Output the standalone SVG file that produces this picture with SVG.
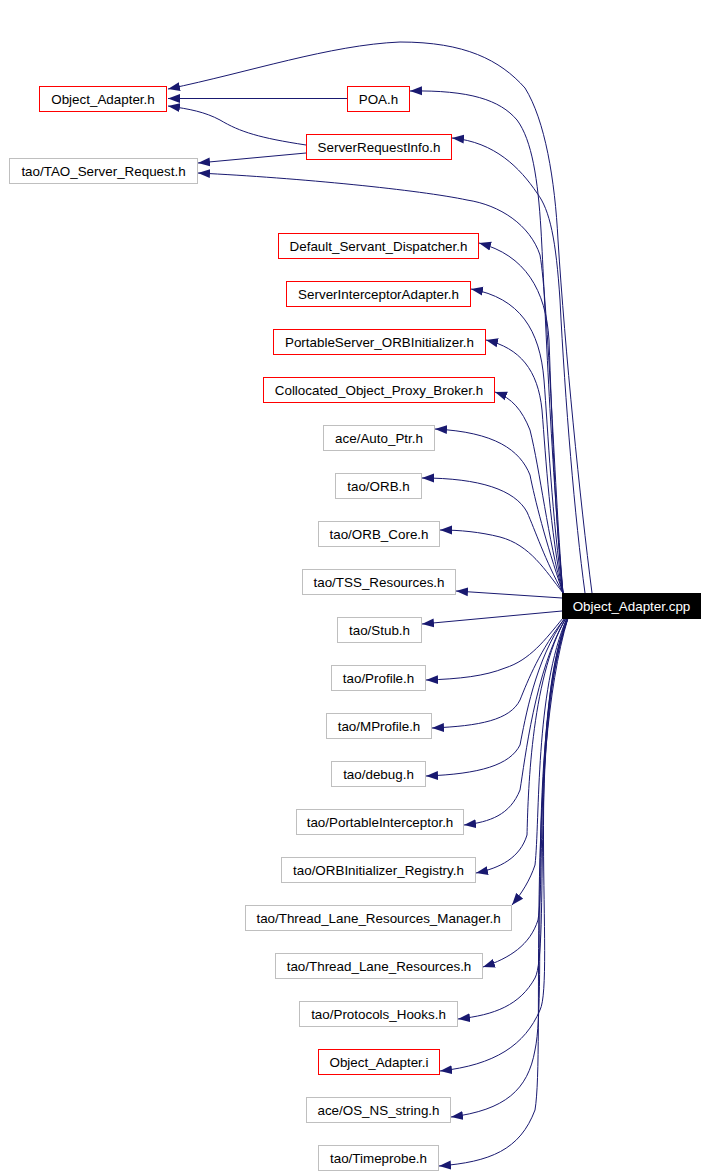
<svg xmlns="http://www.w3.org/2000/svg" width="708" height="1176" viewBox="0 0 708 1176">
<style>
.n rect{fill:#fff;stroke-width:1}
.r rect{stroke:#ff0000}
.g rect{stroke:#bfbfbf}
text{font-family:"Liberation Sans",Arial,Helvetica,sans-serif;font-size:13.4px;text-anchor:middle;fill:#000}
.e path{fill:none;stroke:#191970;stroke-width:1;marker-end:url(#a)}
</style>
<defs>
<marker id="a" markerUnits="userSpaceOnUse" markerWidth="13" markerHeight="10" refX="12" refY="5" orient="auto">
<path d="M0,0.5 L12,5 L0,9.5 Z" fill="#191970"/>
</marker>
</defs>
<rect width="708" height="1176" fill="#fff"/>
<g id="edges" class="e">
<path d="M347,98.5 L168,98.5"/>
<path d="M306,145 C260,138 240,132 220,120 C205,112 190,109 168,106"/>
<path d="M306,153 L198,163"/>
<path d="M592,593 C580,500 565,350 558,240 C555,180 545,120 525,88 C500,60 465,42 400,42 C330,45 250,72 168,89"/>
<path d="M563,593 C550,450 545,300 541,230 C538,180 532,140 517,120 C500,100 470,90 410,91"/>
<path d="M585,593 C575,520 565,400 560,300 C556,240 550,210 537,193 C520,168 495,142 452,138"/>
<path d="M563,593 C555,500 548,300 540,255 C530,225 500,205 467,200 C420,190 300,178 198,173"/>
<path d="M563,593 C555,520 552,420 549,340 C546,290 525,255 479,243"/>
<path d="M563,593 C552,520 548,430 544,380 C540,330 520,298 471,289"/>
<path d="M563,593 C550,530 546,460 542,410 C538,370 520,348 486,340"/>
<path d="M563,593 C548,540 540,470 530,430 C522,410 512,398 495,392"/>
<path d="M563,593 C545,540 535,500 530,475 C520,450 495,432 435,429"/>
<path d="M563,593 C545,560 535,530 527,512 C515,490 480,478 422,478"/>
<path d="M563,593 C545,570 530,545 500,537 C480,532 460,530 440,530"/>
<path d="M562,598 L456,591"/>
<path d="M562,611 L422,624"/>
<path d="M563,618 C545,640 530,660 505,668 C485,676 460,679 426,680"/>
<path d="M565,618 C540,650 528,680 520,700 C510,720 480,726 432,728"/>
<path d="M565,618 C535,660 525,720 520,745 C510,765 480,774 426,776"/>
<path d="M566,618 C535,670 525,760 520,790 C510,815 490,822 464,825"/>
<path d="M566,618 C530,680 528,800 527,835 C520,858 500,868 476,873"/>
<path d="M567,618 C535,690 540,820 535,865 C530,880 522,893 512,905"/>
<path d="M567,618 C535,700 545,880 538,920 C530,945 510,958 483,967"/>
<path d="M568,618 C530,720 550,950 535,978 C520,1005 495,1015 458,1019"/>
<path d="M568,618 C525,720 555,980 540,1010 C525,1045 495,1065 440,1071"/>
<path d="M568,618 C525,740 548,990 535,1050 C528,1090 505,1110 451,1117"/>
<path d="M568,618 C525,760 545,1050 535,1110 C520,1150 490,1162 439,1166"/>
</g>
<g id="n_oah" class="n r"><rect x="39.5" y="86.5" width="127" height="25"/><text x="103" y="104">Object_Adapter.h</text></g>
<g id="n_poa" class="n r"><rect x="347.5" y="86.5" width="62" height="25"/><text x="378.5" y="104">POA.h</text></g>
<g id="n_sri" class="n r"><rect x="306.5" y="134.5" width="145" height="25"/><text x="379" y="152">ServerRequestInfo.h</text></g>
<g id="n_tsr" class="n g"><rect x="9.5" y="158.5" width="188" height="25"/><text x="103.5" y="176">tao/TAO_Server_Request.h</text></g>
<g id="n_dsd" class="n r"><rect x="278.5" y="233.5" width="200" height="25"/><text x="378.5" y="251">Default_Servant_Dispatcher.h</text></g>
<g id="n_sia" class="n r"><rect x="286.5" y="281.5" width="184" height="25"/><text x="378.5" y="299">ServerInterceptorAdapter.h</text></g>
<g id="n_psoi" class="n r"><rect x="273.5" y="329.5" width="212" height="25"/><text x="379.5" y="347">PortableServer_ORBInitializer.h</text></g>
<g id="n_copb" class="n r"><rect x="263.5" y="377.5" width="231" height="25"/><text x="379" y="395">Collocated_Object_Proxy_Broker.h</text></g>
<g id="n_ap" class="n g"><rect x="323.5" y="425.5" width="111" height="25"/><text x="379" y="443">ace/Auto_Ptr.h</text></g>
<g id="n_orb" class="n g"><rect x="335.5" y="473.5" width="86" height="25"/><text x="378.5" y="491">tao/ORB.h</text></g>
<g id="n_orbc" class="n g"><rect x="318.5" y="521.5" width="121" height="25"/><text x="379" y="539">tao/ORB_Core.h</text></g>
<g id="n_tss" class="n g"><rect x="302.5" y="569.5" width="153" height="25"/><text x="379" y="587">tao/TSS_Resources.h</text></g>
<g id="n_stub" class="n g"><rect x="337.5" y="617.5" width="84" height="25"/><text x="379.5" y="635">tao/Stub.h</text></g>
<g id="n_prof" class="n g"><rect x="331.5" y="665.5" width="94" height="25"/><text x="378.5" y="683">tao/Profile.h</text></g>
<g id="n_mprof" class="n g"><rect x="326.5" y="713.5" width="105" height="25"/><text x="379" y="731">tao/MProfile.h</text></g>
<g id="n_debug" class="n g"><rect x="331.5" y="761.5" width="94" height="25"/><text x="378.5" y="779">tao/debug.h</text></g>
<g id="n_pi" class="n g"><rect x="296.5" y="809.5" width="167" height="25"/><text x="380" y="827">tao/PortableInterceptor.h</text></g>
<g id="n_oir" class="n g"><rect x="281.5" y="857.5" width="194" height="25"/><text x="378.5" y="875">tao/ORBInitializer_Registry.h</text></g>
<g id="n_tlrm" class="n g"><rect x="245.5" y="905.5" width="266" height="25"/><text x="378.5" y="923">tao/Thread_Lane_Resources_Manager.h</text></g>
<g id="n_tlr" class="n g"><rect x="275.5" y="953.5" width="207" height="25"/><text x="379" y="971">tao/Thread_Lane_Resources.h</text></g>
<g id="n_ph" class="n g"><rect x="299.5" y="1001.5" width="158" height="25"/><text x="378.5" y="1019">tao/Protocols_Hooks.h</text></g>
<g id="n_oai" class="n r"><rect x="318.5" y="1049.5" width="121" height="25"/><text x="379" y="1067">Object_Adapter.i</text></g>
<g id="n_nss" class="n g"><rect x="306.5" y="1097.5" width="144" height="25"/><text x="378.5" y="1115">ace/OS_NS_string.h</text></g>
<g id="n_tp" class="n g"><rect x="318.5" y="1145.5" width="120" height="25"/><text x="378.5" y="1163">tao/Timeprobe.h</text></g>
<g id="n_cpp"><rect x="562.5" y="593.5" width="138" height="25" fill="#000" stroke="#000"/><text x="631.5" y="611" style="fill:#fff">Object_Adapter.cpp</text></g>
</svg>
